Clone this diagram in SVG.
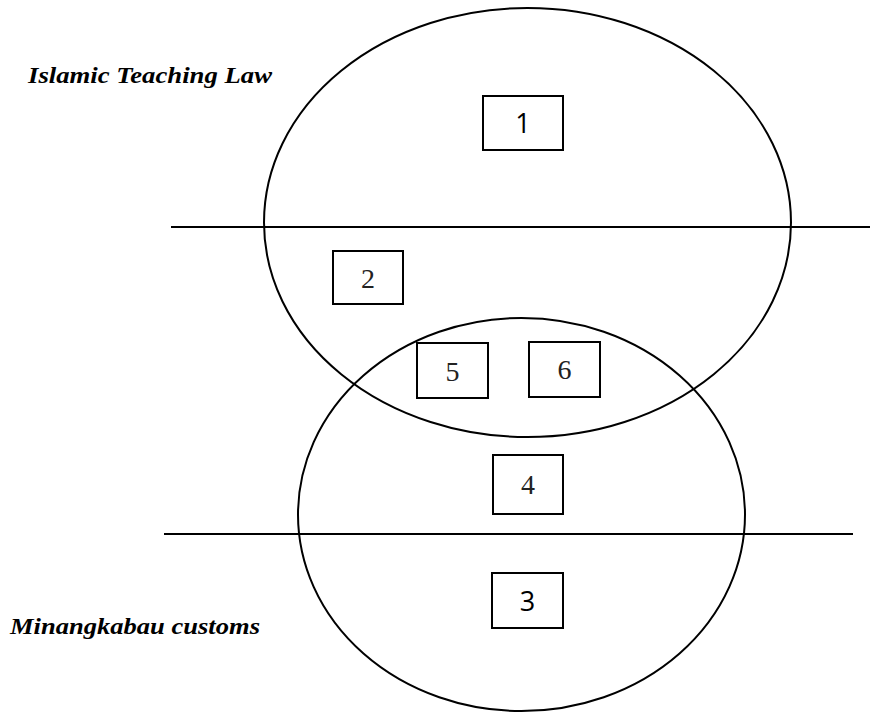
<svg xmlns="http://www.w3.org/2000/svg" width="870" height="713" viewBox="0 0 870 713">
  <style>
    .ring { fill: none; stroke: #000; stroke-width: 2; }
    .rule { stroke: #000; stroke-width: 2; }
    .box { fill: #fff; stroke: #000; stroke-width: 2; }
    .label { font-family: 'Liberation Serif', 'Times New Roman', serif; font-weight: 700; font-style: italic; font-size: 24px; fill: #000; }
    .num-sans { font-family: 'Open Sans', 'Liberation Sans', sans-serif; font-size: 27px; fill: #000; text-anchor: middle; }
    .num-serif { font-family: 'Liberation Serif', 'Times New Roman', serif; font-size: 28px; fill: #222; text-anchor: middle; }
  </style>
  <rect width="870" height="713" fill="#fff"/>

  <g id="labels">
    <text class="label" x="28" y="83" textLength="244" lengthAdjust="spacingAndGlyphs">Islamic Teaching Law</text>
    <text class="label" x="10" y="634" textLength="250" lengthAdjust="spacingAndGlyphs">Minangkabau customs</text>
  </g>

  <g id="connectors">
    <line class="rule" x1="171" y1="227" x2="870" y2="227"/>
    <line class="rule" x1="164" y1="534" x2="853" y2="534"/>
  </g>

  <g id="islamic-law">
    <ellipse class="ring" cx="527.5" cy="222.5" rx="263.5" ry="214.5"/>
  </g>
  <g id="customs">
    <ellipse class="ring" cx="521.5" cy="514.5" rx="223.5" ry="196.5"/>
  </g>

  <g id="node-1">
    <rect class="box" x="483" y="96" width="80" height="54"/>
    <text class="num-sans" x="523" y="133">1</text>
  </g>
  <g id="node-2">
    <rect class="box" x="333" y="251" width="70" height="53"/>
    <text class="num-serif" x="368" y="288">2</text>
  </g>
  <g id="node-5">
    <rect class="box" x="417" y="343" width="71" height="55"/>
    <text class="num-serif" x="452.5" y="381">5</text>
  </g>
  <g id="node-6">
    <rect class="box" x="529" y="342" width="71" height="55"/>
    <text class="num-serif" x="564.5" y="379">6</text>
  </g>
  <g id="node-4">
    <rect class="box" x="493" y="455" width="70" height="59"/>
    <text class="num-serif" x="528" y="494">4</text>
  </g>
  <g id="node-3">
    <rect class="box" x="492" y="573" width="71" height="55"/>
    <text class="num-sans" x="527.5" y="611">3</text>
  </g>
</svg>
